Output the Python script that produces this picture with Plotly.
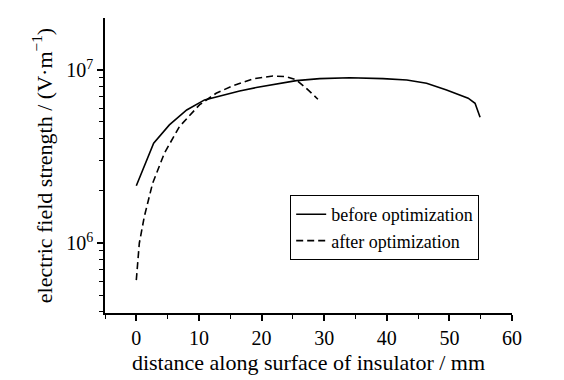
import plotly.graph_objects as go

before_x = [0, 2.77, 5.28, 8.05, 10.9, 13.8, 16.5, 19.15, 22.35, 25.55, 29.3, 34.1, 39.4, 43.2, 46.35, 49.55, 53.0, 54.1, 54.9]
before_y = [2.14e6, 3.77e6, 4.81e6, 5.87e6, 6.71e6, 7.17e6, 7.56e6, 7.91e6, 8.3e6, 8.67e6, 8.91e6, 9.0e6, 8.9e6, 8.75e6, 8.37e6, 7.66e6, 6.86e6, 6.41e6, 5.33e6]

after_x = [0, 0.48, 1.28, 2.6, 4.48, 6.88, 10.08, 12.75, 15.4, 18.6, 21.8, 23.95, 25.55, 27.15, 29.0]
after_y = [6.1e5, 9.96e5, 1.42e6, 2.21e6, 3.3e6, 4.7e6, 6.28e6, 7.33e6, 8.09e6, 8.87e6, 9.22e6, 9.15e6, 8.75e6, 7.83e6, 6.77e6]

x_ticks = [0, 10, 20, 30, 40, 50, 60]
y_ticks = [1e6, 1e7]
y_ticktext = ["10<sup>6</sup>", "10<sup>7</sup>"]
y_minor = [4e5, 5e5, 6e5, 7e5, 8e5, 9e5, 2e6, 3e6, 4e6, 5e6, 6e6, 7e6, 8e6, 9e6]

FONT = "Liberation Serif"

fig = go.Figure()
fig.add_trace(go.Scatter(x=before_x, y=before_y, mode="lines", name="before optimization",
                         line=dict(color="black", width=1.6)))
fig.add_trace(go.Scatter(x=after_x, y=after_y, mode="lines", name="after optimization",
                         line=dict(color="black", width=1.6, dash="7px,4px")))

fig.update_layout(
    width=564, height=380,
    margin=dict(l=105, r=52, t=18, b=67),
    paper_bgcolor="white", plot_bgcolor="white",
    font=dict(family=FONT, color="black", size=18),
    showlegend=True,
    legend=dict(x=0.455, y=0.40, xanchor="left", yanchor="top",
                bordercolor="black", borderwidth=1, bgcolor="white",
                font=dict(family=FONT, size=18), tracegroupgap=0,
                itemwidth=30),
    xaxis=dict(range=[-5, 60], tickvals=x_ticks, showline=True, linecolor="black", linewidth=1.5,
               ticks="outside", ticklen=6, tickwidth=1.5, tickcolor="black",
               showgrid=False, zeroline=False, automargin=False,
               tickfont=dict(family=FONT, size=20),
               minor=dict(dtick=5, tick0=0, ticks="outside", ticklen=4, tickwidth=1.2, tickcolor="black", showgrid=False),
               title=dict(text="distance along surface of insulator / mm", font=dict(family=FONT, size=22), standoff=7)),
    yaxis=dict(type="log", range=[5.595, 7.30], tickvals=y_ticks, ticktext=y_ticktext,
               showline=True, linecolor="black", linewidth=1.5,
               ticks="outside", ticklen=6, tickwidth=1.5, tickcolor="black",
               showgrid=False, zeroline=False, automargin=False,
               tickfont=dict(family=FONT, size=20),
               minor=dict(tickvals=y_minor, ticks="outside", ticklen=4, tickwidth=1.2, tickcolor="black", showgrid=False),
               title=dict(text="electric field strength / (V·m<sup>−1</sup>)", font=dict(family=FONT, size=22), standoff=8)),
)

fig.write_html("out.html", config={"displayModeBar": False},
               post_script="document.body.style.margin='0';document.body.style.overflow='hidden';")
